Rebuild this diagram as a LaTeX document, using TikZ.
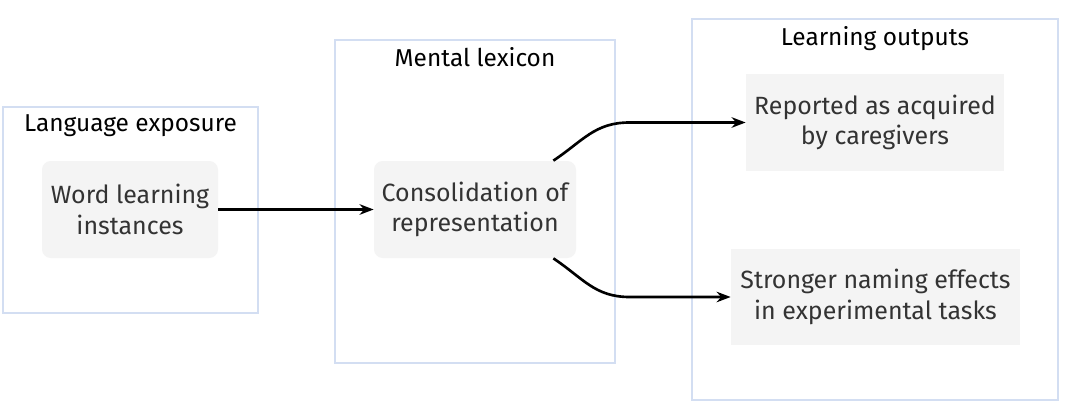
\documentclass[tikz,border=0pt]{standalone}
\usepackage{fontspec}
\setmainfont{Fira Sans}
\usetikzlibrary{positioning, arrows.meta}
\definecolor{groupline}{HTML}{D3DEF2}
\definecolor{nodefill}{HTML}{F4F4F4}
\definecolor{nodetext}{HTML}{333333}

\tikzset{
  groupbox/.style={draw=groupline, line width=0.8pt, fill=white},
  grouptitle/.style={font=\fontsize{13.9}{16}\selectfont, text=black},
  stepbox/.style={fill=nodefill, align=center, text=nodetext, font=\fontsize{14.2}{17.3}\selectfont},
  flow/.style={-{Stealth[length=8pt, width=6pt]}, line width=1.5pt, black}
}

\begin{document}
\begin{tikzpicture}
\useasboundingbox (0,0) rectangle (21.42,-8.2);

% groups
\node[groupbox, minimum width=5.1cm, minimum height=4.12cm] (exposure) at (2.61,-4.2) {};
\node[groupbox, minimum width=5.6cm, minimum height=6.46cm] (lexicon) at (9.5,-4.03) {};
\node[groupbox, minimum width=7.32cm, minimum height=7.62cm] (outputs) at (17.5,-4.19) {};

\node[grouptitle, below=0.04cm of exposure.north] (exposuretitle) {Language exposure};
\node[grouptitle, below=0.04cm of lexicon.north] (lexicontitle) {Mental lexicon};
\node[grouptitle, below=0.04cm of outputs.north] (outputstitle) {Learning outputs};

% steps
\node[stepbox, rounded corners=5pt, minimum width=3.52cm, minimum height=1.94cm] (words) at (2.6,-4.19) {Word learning\\instances};
\node[stepbox, rounded corners=5pt, minimum width=4.04cm, minimum height=1.94cm] (consol) at (9.5,-4.19) {Consolidation of\\representation};
\node[stepbox, minimum width=5.16cm, minimum height=1.94cm] (reported) at (17.5,-2.45) {Reported as acquired\\by caregivers};
\node[stepbox, minimum width=5.78cm, minimum height=1.92cm] (stronger) at (17.51,-5.94) {Stronger naming effects\\in experimental tasks};

% links
\draw[flow] (words) -- (consol);
\draw[flow] ([xshift=-0.46cm]consol.north east) .. controls +(0.6,0.4) and +(-0.7,0) .. ([xshift=-2.32cm]reported.west) -- (reported.west);
\draw[flow] ([xshift=-0.46cm]consol.south east) .. controls +(0.6,-0.4) and +(-0.7,0) .. ([xshift=-2.02cm]stronger.west) -- (stronger.west);

\end{tikzpicture}
\end{document}
